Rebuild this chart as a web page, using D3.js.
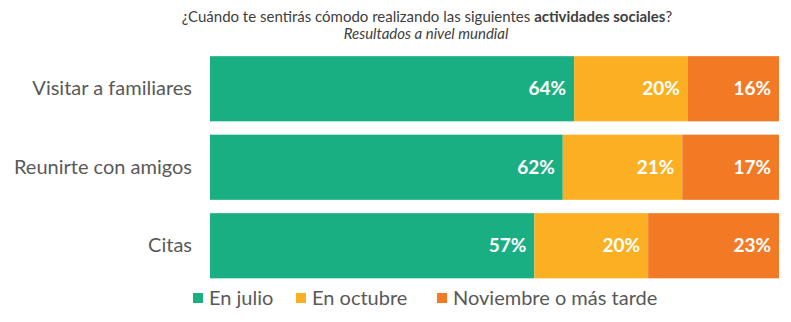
<!DOCTYPE html>
<html><head><meta charset="utf-8">
<script src="https://cdn.jsdelivr.net/npm/d3@7"></script>
<style>body{margin:0;background:#fff}svg{display:block}text{font-family:"Century Gothic","URW Gothic",Lato,sans-serif}</style>
</head><body><svg id="c" width="791" height="322"></svg>
<script>
const categories = ["Visitar a familiares", "Reunirte con amigos", "Citas"];
const seriesNames = ["En julio", "En octubre", "Noviembre o más tarde"];
const julio = [64, 62, 57];
const octubre = [20, 21, 20];
const noviembre = [16, 17, 23];
const colors = ["#1aaf83", "#fbb024", "#f37a25"];

const svg = d3.select("#c");
const x = d3.scaleLinear().domain([0, 100]).range([210, 779]);
const y = d3.scaleBand().domain(categories).range([49.5, 285]).paddingInner(0.17).paddingOuter(0.085);

const data = categories.map((c, i) => ({cat: c, julio: julio[i], octubre: octubre[i], noviembre: noviembre[i]}));
const stack = d3.stack().keys(["julio", "octubre", "noviembre"])(data);

const g = svg.append("g");
stack.forEach((s, si) => {
  g.selectAll(null).data(s).enter().append("rect")
    .attr("x", d => x(d[0])).attr("y", d => y(d.data.cat))
    .attr("width", d => x(d[1]) - x(d[0])).attr("height", y.bandwidth())
    .attr("fill", colors[si]);
  g.selectAll(null).data(s).enter().append("text")
    .attr("x", d => x(d[1]) - 8).attr("y", d => y(d.data.cat) + y.bandwidth() / 2)
    .attr("dy", "0.35em").attr("text-anchor", "end")
    .attr("fill", "#fff").attr("font-weight", "bold").attr("font-size", 19)
    .text(d => (d[1] - d[0]) + "%");
});

const yAxis = svg.append("g").attr("transform", "translate(210,0)")
  .call(d3.axisLeft(y).tickSize(0).tickPadding(18));
yAxis.select(".domain").remove();
yAxis.selectAll("text").attr("font-size", 20).attr("fill", "#595959")
  .style("font-family", '"Century Gothic","URW Gothic",Lato,sans-serif');

svg.append("text").attr("x", 427).attr("y", 22).attr("text-anchor", "middle")
  .attr("font-size", 15).attr("fill", "#404040")
  .call(t => {
    t.append("tspan").text("¿Cuándo te sentirás cómodo realizando las siguientes ");
    t.append("tspan").attr("font-weight", "bold").text("actividades sociales");
    t.append("tspan").text("?");
  });
svg.append("text").attr("x", 426).attr("y", 39).attr("text-anchor", "middle")
  .attr("font-size", 15).attr("font-style", "italic").attr("fill", "#404040")
  .text("Resultados a nivel mundial");

const legX = [193, 296, 437];
const leg = svg.append("g");
seriesNames.forEach((n, i) => {
  leg.append("rect").attr("x", legX[i]).attr("y", 293).attr("width", 10).attr("height", 10).attr("fill", colors[i]);
  leg.append("text").attr("x", legX[i] + 16).attr("y", 298).attr("dy", "0.35em")
    .attr("font-size", 20).attr("fill", "#595959").text(n);
});
</script></body></html>
